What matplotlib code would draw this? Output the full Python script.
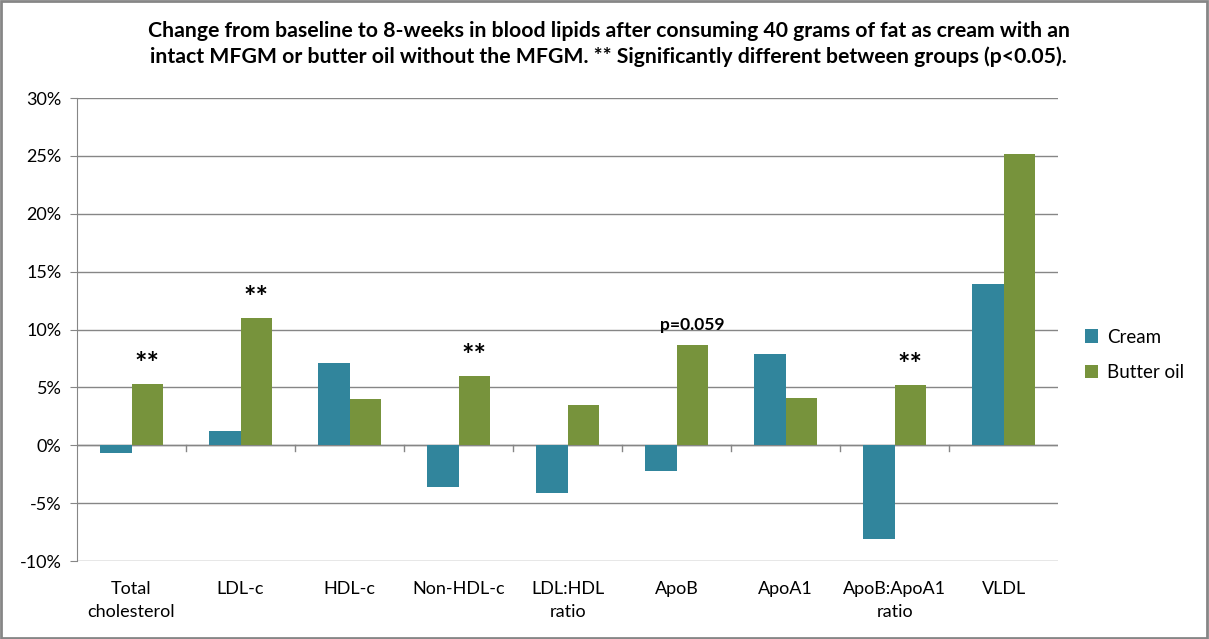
import numpy as np
import matplotlib.pyplot as plt
from matplotlib.patches import Rectangle
from matplotlib.ticker import FuncFormatter

plt.rcParams['font.family'] = ['Lato', 'DejaVu Sans']

categories = ['Total\ncholesterol', 'LDL-c', 'HDL-c', 'Non-HDL-c', 'LDL:HDL\nratio',
              'ApoB', 'ApoA1', 'ApoB:ApoA1\nratio', 'VLDL']
cream = [-0.7, 1.2, 7.1, -3.6, -4.1, -2.2, 7.9, -8.1, 13.9]
butter_oil = [5.3, 11.0, 4.0, 6.0, 3.5, 8.7, 4.1, 5.2, 25.2]
# annotations above the butter oil bars
notes = {0: '**', 1: '**', 3: '**', 5: 'p=0.059', 7: '**'}

cream_color = '#31859C'
butter_color = '#77933C'
grid_color = '#868686'

fig = plt.figure(figsize=(12.09, 6.39), dpi=100)
ax = fig.add_axes([0.0637, 0.122, 0.8115, 0.7246])

x = np.arange(len(categories))
w = 0.2857
ax.bar(x - w / 2, cream, w, color=cream_color, label='Cream', zorder=3)
ax.bar(x + w / 2, butter_oil, w, color=butter_color, label='Butter oil', zorder=3)

for i, txt in notes.items():
    if txt == '**':
        ax.text(x[i] + w / 2, butter_oil[i] + 0.6, txt, ha='center', va='bottom',
                fontsize=21, fontweight='bold', zorder=4)
    else:
        ax.text(x[i] + w / 2, butter_oil[i] + 1.0, txt, ha='center', va='bottom',
                fontsize=12.5, fontweight='bold', zorder=4)

ax.set_xlim(-0.5, len(categories) - 0.5)
ax.set_ylim(-10, 30)
ax.set_yticks(np.arange(-10, 31, 5))
ax.yaxis.set_major_formatter(FuncFormatter(lambda v, p: f'{v:.0f}%'))
ax.yaxis.grid(True, color=grid_color, linewidth=1, zorder=0)
ax.tick_params(axis='y', length=5, color=grid_color, labelsize=13, pad=6)

# category labels placed at the bottom, boundary ticks on the zero line
ax.set_xticks([])
for i, c in enumerate(categories):
    ax.text(x[i], -11.7, c, ha='center', va='top', fontsize=13, linespacing=1.55)
ax.axhline(0, color=grid_color, linewidth=1, zorder=2)
for b in np.arange(0.5, len(categories) - 0.5, 1):
    ax.plot([b, b], [0, -0.5], color=grid_color, linewidth=1, zorder=2, clip_on=False)

for s in ['top', 'right', 'bottom']:
    ax.spines[s].set_visible(False)
ax.spines['left'].set_color(grid_color)

ax.legend(loc='center left', bbox_to_anchor=(1.01, 0.445), frameon=False,
          fontsize=13.5, handlelength=0.7, handleheight=0.7, labelspacing=1.0,
          handletextpad=0.5)

fig.suptitle('Change from baseline to 8-weeks in blood lipids after consuming 40 grams of fat as cream with an\n'
             'intact MFGM or butter oil without the MFGM. ** Significantly different between groups (p<0.05).',
             x=0.5035, y=0.967, fontsize=15.3, fontweight='bold', linespacing=1.3)

fig.patches.append(Rectangle((0.001, 0.002), 0.997, 0.996, transform=fig.transFigure,
                             fill=False, edgecolor=grid_color, linewidth=2))

fig.savefig('out.png', dpi=100)
